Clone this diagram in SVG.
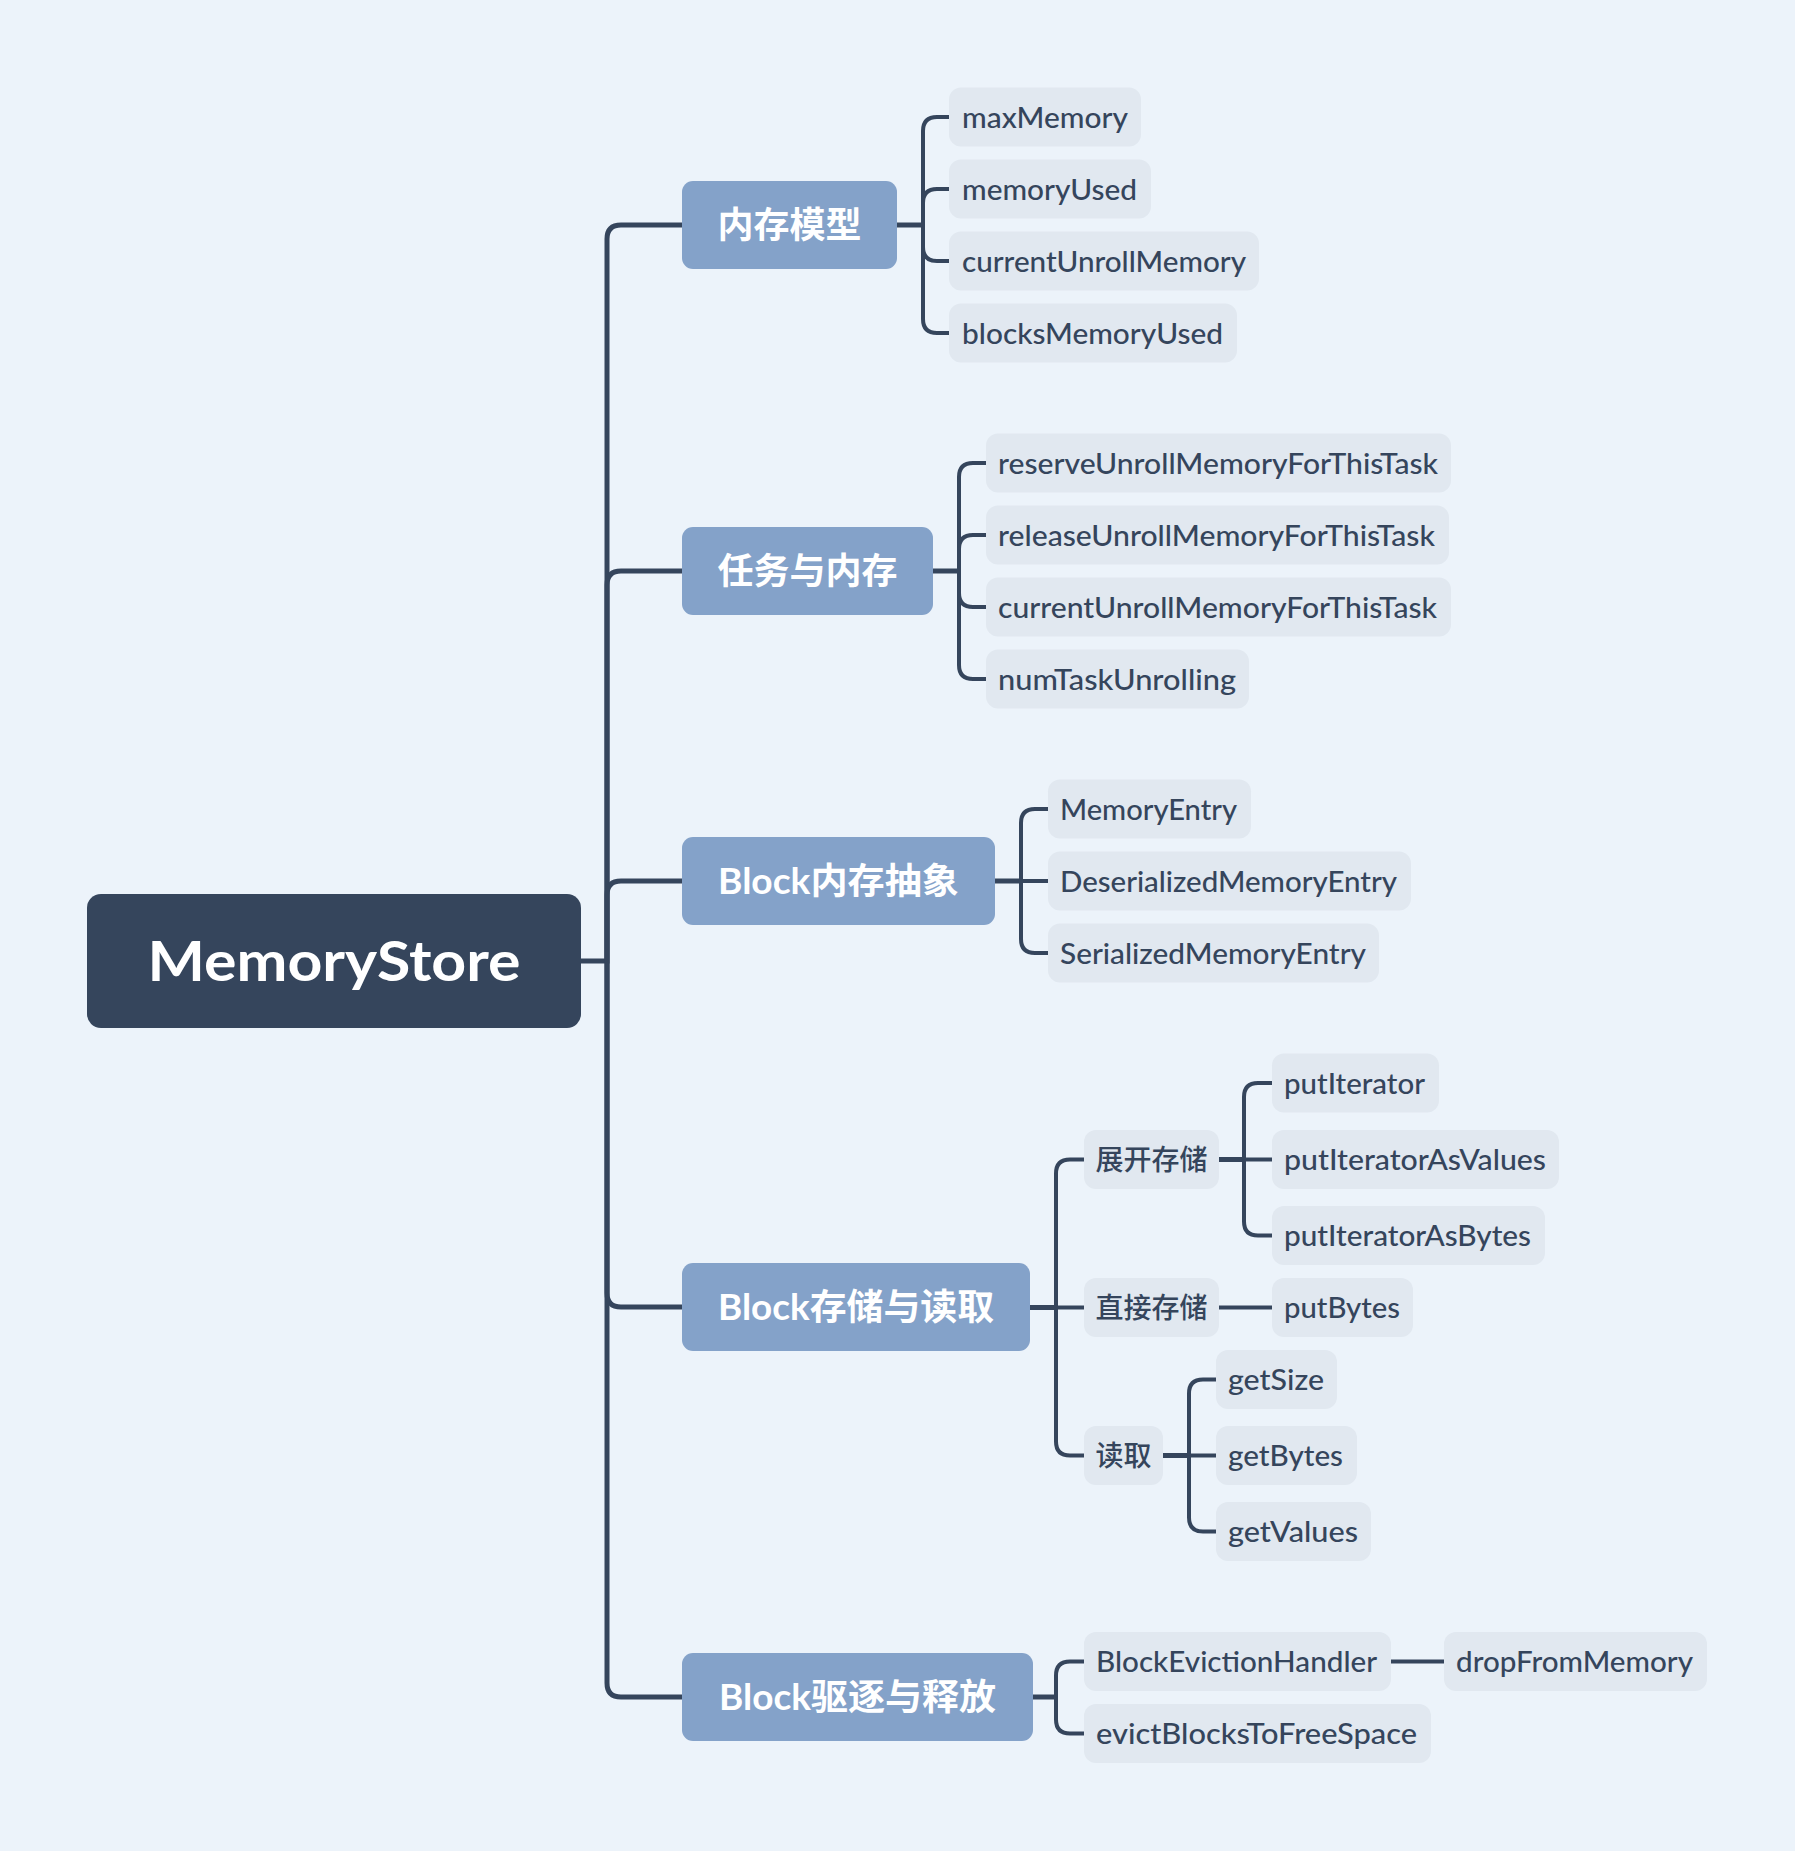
<svg xmlns="http://www.w3.org/2000/svg" width="1795" height="1851" viewBox="0 0 1795 1851">
<style>
.bg{fill:#ECF3FA}
.root{fill:#35455C}
.l1{fill:#84A2C9}
.leaf{fill:#E1E8F0}
.rt{font-family:Lato,"Noto Sans CJK SC",sans-serif;font-weight:700;font-size:56px;fill:#FFFFFF}
.t1{font-family:Lato,"Noto Sans CJK SC",sans-serif;font-weight:700;font-size:36px;fill:#FFFFFF}
.t2{font-family:Lato,"Noto Sans CJK SC",sans-serif;font-weight:500;font-size:28px;fill:#35455C}
.c5{fill:none;stroke:#35455C;stroke-width:5;stroke-linecap:butt}
.c4{fill:none;stroke:#35455C;stroke-width:4;stroke-linecap:butt}
</style>
<rect class="bg" x="0" y="0" width="1795" height="1851"/>
<g id="connectors">
<path class="c5" d="M581,961 H607 V239 Q607,225 621,225 H682"/>
<path class="c5" d="M607,961 V585 Q607,571 621,571 H682"/>
<path class="c5" d="M607,961 V895 Q607,881 621,881 H682"/>
<path class="c5" d="M607,961 V1293 Q607,1307 621,1307 H682"/>
<path class="c5" d="M607,961 V1683 Q607,1697 621,1697 H682"/>
<path class="c5" d="M897,225 H923"/>
<path class="c4" d="M923,225 V131 Q923,117 937,117 H949"/>
<path class="c4" d="M923,225 V203 Q923,189 937,189 H949"/>
<path class="c4" d="M923,225 V247 Q923,261 937,261 H949"/>
<path class="c4" d="M923,225 V319 Q923,333 937,333 H949"/>
<path class="c5" d="M933,571 H959"/>
<path class="c4" d="M959,571 V477 Q959,463 973,463 H986"/>
<path class="c4" d="M959,571 V549 Q959,535 973,535 H986"/>
<path class="c4" d="M959,571 V593 Q959,607 973,607 H986"/>
<path class="c4" d="M959,571 V665 Q959,679 973,679 H986"/>
<path class="c5" d="M995,881 H1021"/>
<path class="c4" d="M1021,881 V823 Q1021,809 1035,809 H1048"/>
<path class="c4" d="M1021,881 H1048"/>
<path class="c4" d="M1021,881 V939 Q1021,953 1035,953 H1048"/>
<path class="c5" d="M1030,1307.5 H1056"/>
<path class="c4" d="M1056,1307.5 V1173.5 Q1056,1159.5 1070,1159.5 H1084"/>
<path class="c4" d="M1056,1307.5 H1084"/>
<path class="c4" d="M1056,1307.5 V1441.5 Q1056,1455.5 1070,1455.5 H1084"/>
<path class="c5" d="M1219,1159.5 H1244"/>
<path class="c4" d="M1244,1159.5 V1097 Q1244,1083 1258,1083 H1272"/>
<path class="c4" d="M1244,1159.5 H1272"/>
<path class="c4" d="M1244,1159.5 V1221.5 Q1244,1235.5 1258,1235.5 H1272"/>
<path class="c4" d="M1219,1307.5 H1272"/>
<path class="c5" d="M1163,1455.5 H1189"/>
<path class="c4" d="M1189,1455.5 V1393.5 Q1189,1379.5 1203,1379.5 H1216"/>
<path class="c4" d="M1189,1455.5 H1216"/>
<path class="c4" d="M1189,1455.5 V1517.5 Q1189,1531.5 1203,1531.5 H1216"/>
<path class="c5" d="M1033,1697 H1056"/>
<path class="c4" d="M1056,1697 V1675.5 Q1056,1661.5 1070,1661.5 H1084"/>
<path class="c4" d="M1056,1697 V1719.5 Q1056,1733.5 1070,1733.5 H1084"/>
<path class="c4" d="M1391,1661.5 H1444"/>
</g>
<g id="root"><rect class="root" x="87" y="894" width="494" height="134" rx="14"/><text class="rt" x="334" y="981" text-anchor="middle" textLength="373" lengthAdjust="spacingAndGlyphs">MemoryStore</text></g>
<g id="n-memmodel"><rect class="l1" x="682" y="181" width="215" height="88" rx="11"/><text class="t1" x="789.5" y="238" text-anchor="middle">内存模型</text></g>
<g id="n-task"><rect class="l1" x="682" y="527" width="251" height="88" rx="11"/><text class="t1" x="807.5" y="584" text-anchor="middle">任务与内存</text></g>
<g id="n-blockabs"><rect class="l1" x="682" y="837" width="313" height="88" rx="11"/><text class="t1" x="718" y="894" textLength="241" lengthAdjust="spacingAndGlyphs">Block内存抽象</text></g>
<g id="n-blockio"><rect class="l1" x="682" y="1263" width="348" height="88" rx="11"/><text class="t1" x="718" y="1320" textLength="276" lengthAdjust="spacingAndGlyphs">Block存储与读取</text></g>
<g id="n-blockevict"><rect class="l1" x="682" y="1653" width="351" height="88" rx="11"/><text class="t1" x="719" y="1710" textLength="277" lengthAdjust="spacingAndGlyphs">Block驱逐与释放</text></g>
<g id="n-maxMemory"><rect class="leaf" x="949" y="87.5" width="192" height="59" rx="12"/><text class="t2" x="962" y="127.5" textLength="166" lengthAdjust="spacingAndGlyphs">maxMemory</text></g>
<g id="n-memoryUsed"><rect class="leaf" x="949" y="159.5" width="202" height="59" rx="12"/><text class="t2" x="962" y="199.5" textLength="175" lengthAdjust="spacingAndGlyphs">memoryUsed</text></g>
<g id="n-currentUnrollMemory"><rect class="leaf" x="949" y="231.5" width="310" height="59" rx="12"/><text class="t2" x="962" y="271.5" textLength="284" lengthAdjust="spacingAndGlyphs">currentUnrollMemory</text></g>
<g id="n-blocksMemoryUsed"><rect class="leaf" x="949" y="303.5" width="288" height="59" rx="12"/><text class="t2" x="962" y="343.5" textLength="261" lengthAdjust="spacingAndGlyphs">blocksMemoryUsed</text></g>
<g id="n-reserve"><rect class="leaf" x="986" y="433.5" width="465" height="59" rx="12"/><text class="t2" x="998" y="473.5" textLength="440" lengthAdjust="spacingAndGlyphs">reserveUnrollMemoryForThisTask</text></g>
<g id="n-release"><rect class="leaf" x="986" y="505.5" width="463" height="59" rx="12"/><text class="t2" x="998" y="545.5" textLength="437" lengthAdjust="spacingAndGlyphs">releaseUnrollMemoryForThisTask</text></g>
<g id="n-currentTask"><rect class="leaf" x="986" y="577.5" width="465" height="59" rx="12"/><text class="t2" x="998" y="617.5" textLength="439" lengthAdjust="spacingAndGlyphs">currentUnrollMemoryForThisTask</text></g>
<g id="n-numTask"><rect class="leaf" x="986" y="649.5" width="263" height="59" rx="12"/><text class="t2" x="998" y="689.5" textLength="238" lengthAdjust="spacingAndGlyphs">numTaskUnrolling</text></g>
<g id="n-MemoryEntry"><rect class="leaf" x="1048" y="779.5" width="203" height="59" rx="12"/><text class="t2" x="1060" y="819.5" textLength="177" lengthAdjust="spacingAndGlyphs">MemoryEntry</text></g>
<g id="n-Deserialized"><rect class="leaf" x="1048" y="851.5" width="363" height="59" rx="12"/><text class="t2" x="1060" y="891.5" textLength="337" lengthAdjust="spacingAndGlyphs">DeserializedMemoryEntry</text></g>
<g id="n-Serialized"><rect class="leaf" x="1048" y="923.5" width="331" height="59" rx="12"/><text class="t2" x="1060" y="963.5" textLength="306" lengthAdjust="spacingAndGlyphs">SerializedMemoryEntry</text></g>
<g id="n-unroll"><rect class="leaf" x="1084" y="1130" width="135" height="59" rx="12"/><text class="t2" x="1151.5" y="1170" text-anchor="middle">展开存储</text></g>
<g id="n-direct"><rect class="leaf" x="1084" y="1278" width="135" height="59" rx="12"/><text class="t2" x="1151.5" y="1318" text-anchor="middle">直接存储</text></g>
<g id="n-read"><rect class="leaf" x="1084" y="1426" width="79" height="59" rx="12"/><text class="t2" x="1123.5" y="1466" text-anchor="middle">读取</text></g>
<g id="n-putIterator"><rect class="leaf" x="1272" y="1053.5" width="167" height="59" rx="12"/><text class="t2" x="1284" y="1093.5" textLength="141" lengthAdjust="spacingAndGlyphs">putIterator</text></g>
<g id="n-putIteratorAsValues"><rect class="leaf" x="1272" y="1130" width="287" height="59" rx="12"/><text class="t2" x="1284" y="1170" textLength="262" lengthAdjust="spacingAndGlyphs">putIteratorAsValues</text></g>
<g id="n-putIteratorAsBytes"><rect class="leaf" x="1272" y="1206" width="273" height="59" rx="12"/><text class="t2" x="1284" y="1246" textLength="247" lengthAdjust="spacingAndGlyphs">putIteratorAsBytes</text></g>
<g id="n-putBytes"><rect class="leaf" x="1272" y="1278" width="141" height="59" rx="12"/><text class="t2" x="1284" y="1318" textLength="116" lengthAdjust="spacingAndGlyphs">putBytes</text></g>
<g id="n-getSize"><rect class="leaf" x="1216" y="1350" width="121" height="59" rx="12"/><text class="t2" x="1228" y="1390" textLength="96" lengthAdjust="spacingAndGlyphs">getSize</text></g>
<g id="n-getBytes"><rect class="leaf" x="1216" y="1426" width="141" height="59" rx="12"/><text class="t2" x="1228" y="1466" textLength="115" lengthAdjust="spacingAndGlyphs">getBytes</text></g>
<g id="n-getValues"><rect class="leaf" x="1216" y="1502" width="155" height="59" rx="12"/><text class="t2" x="1228" y="1542" textLength="130" lengthAdjust="spacingAndGlyphs">getValues</text></g>
<g id="n-BlockEvictionHandler"><rect class="leaf" x="1084" y="1632" width="307" height="59" rx="12"/><text class="t2" x="1096" y="1672" textLength="281" lengthAdjust="spacingAndGlyphs">BlockEvictionHandler</text></g>
<g id="n-evictBlocks"><rect class="leaf" x="1084" y="1704" width="347" height="59" rx="12"/><text class="t2" x="1096" y="1744" textLength="321" lengthAdjust="spacingAndGlyphs">evictBlocksToFreeSpace</text></g>
<g id="n-dropFromMemory"><rect class="leaf" x="1444" y="1632" width="263" height="59" rx="12"/><text class="t2" x="1456" y="1672" textLength="237" lengthAdjust="spacingAndGlyphs">dropFromMemory</text></g>
</svg>
